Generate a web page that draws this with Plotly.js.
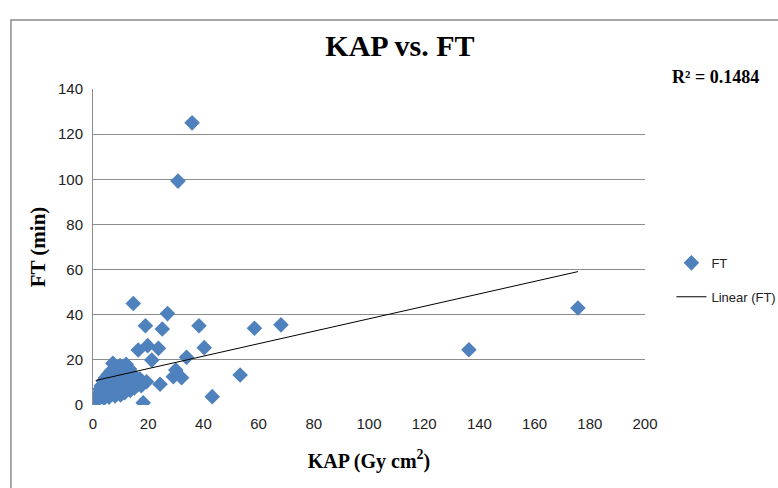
<!DOCTYPE html>
<html>
<head>
<meta charset="utf-8">
<script src="https://cdn.plot.ly/plotly-3.0.1.min.js"></script>
<style>html,body{margin:0;padding:0;background:#fff;}#chart{width:778px;height:488px;}</style>
</head>
<body>
<div id="chart"></div>
<script>
// KAP (Gy cm²) values
var kap = [
  35.9, 30.8, 14.6, 27.0, 19.0, 25.1, 38.4, 58.5, 68.1, 175.7, 136.2, 40.3, 16.4, 19.8, 23.7,
  21.3, 33.9, 53.3, 30.0, 29.1, 32.1, 24.3, 19.4, 18.2, 43.2,
  1.0, 1.5, 2.0, 2.2, 2.5, 3.0, 3.0, 3.5, 3.8, 4.0, 4.2, 4.5, 5.0, 5.0, 5.5, 5.8, 6.0, 6.2, 6.5,
  7.0, 7.0, 7.2, 7.5, 8.0, 8.0, 8.3, 8.5, 9.0, 9.0, 9.5, 9.8, 10.0, 10.2, 10.5, 11.0, 11.2, 11.5,
  12.0, 12.0, 12.5, 13.0, 13.2, 13.5, 14.0, 14.5, 15.0, 15.5, 16.0, 17.0, 17.5, 18.0
];
// FT (min) values
var ft = [
  125.0, 99.2, 45.0, 40.5, 35.1, 33.7, 35.1, 34.0, 35.5, 43.0, 24.5, 25.4, 24.4, 26.3, 25.1,
  19.9, 21.1, 13.3, 15.5, 12.5, 12.1, 9.2, 10.3, 1.0, 3.7,
  3.0, 2.0, 5.0, 3.5, 7.0, 4.0, 8.5, 6.0, 10.5, 3.0, 7.5, 12.0, 5.0, 9.0, 13.5, 3.5, 7.0, 11.0, 15.0,
  5.0, 9.5, 18.5, 13.0, 4.0, 7.5, 16.0, 11.0, 6.0, 14.0, 9.0, 17.5, 4.5, 12.0, 7.0, 15.5, 10.0, 5.5,
  18.0, 13.0, 8.0, 11.0, 16.0, 6.5, 9.5, 13.5, 7.5, 11.0, 9.0, 11.5, 8.5, 10.0
];
// Linear trendline
var trendSlope = 0.276;
var trendIntercept = 10.6;
var rSquaredLabel = "R² = 0.1484";
var xTicks = [0, 20, 40, 60, 80, 100, 120, 140, 160, 180, 200];
var yTicks = [0, 20, 40, 60, 80, 100, 120, 140];

var xMin = Math.min.apply(null, kap), xMax = Math.max.apply(null, kap);
var trendX = [xMin, xMax];
var trendY = trendX.map(function(v){ return trendIntercept + trendSlope * v; });

var serif = "Liberation Serif, Times New Roman, serif";
var sans = "Liberation Sans Narrow, Liberation Sans, Arial, sans-serif";

var data = [
  {x: kap, y: ft, type: 'scatter', mode: 'markers', name: 'FT', legendgroup: 'a',
   marker: {symbol: 'diamond', size: 12, color: '#4F81BD'}},
  {x: trendX, y: trendY, type: 'scatter', mode: 'lines', name: 'Linear (FT)', legendgroup: 'b',
   line: {color: '#000000', width: 1}}
];

var layout = {
  width: 778, height: 488,
  margin: {l: 93, r: 133, t: 89, b: 83, autoexpand: false},
  paper_bgcolor: '#ffffff', plot_bgcolor: '#ffffff',
  title: {text: '<b>KAP vs. FT</b>', font: {family: serif, size: 30, color: '#000'},
          x: 0.514, xanchor: 'center', xref: 'container', y: 0.907, yanchor: 'middle', yref: 'container'},
  xaxis: {range: [0, 200], tickvals: xTicks, ticktext: xTicks.map(String),
          showgrid: false, zeroline: false, showline: false,
          tickfont: {family: sans, size: 15, color: '#222'}, ticks: '', ticklen: 0, ticklabelstandoff: 8,
          title: {text: '<b>KAP (Gy cm<sup>2</sup>)</b>', font: {family: serif, size: 20, color: '#000'}, standoff: 22}},
  yaxis: {range: [0, 140], tickvals: yTicks, ticktext: yTicks.map(String),
          showgrid: true, gridcolor: '#8c8c8c', gridwidth: 1, zeroline: false,
          showline: true, linecolor: '#8c8c8c', linewidth: 1,
          tickfont: {family: sans, size: 15, color: '#222'}, ticks: '', ticklen: 0, ticklabelstandoff: 6,
          title: {text: '<b>FT (min)</b>', font: {family: serif, size: 21, color: '#000'}, standoff: 6}},
  showlegend: true,
  legend: {xref: 'container', yref: 'container', x: 0.863, xanchor: 'left', y: 0.492, yanchor: 'top', tracegroupgap: 14,
           font: {family: sans, size: 13, color: '#222'}, bgcolor: 'rgba(0,0,0,0)'},
  annotations: [
    {text: '<b>' + rSquaredLabel + '</b>', xref: 'paper', yref: 'paper', x: 1.127, y: 1.038,
     xanchor: 'center', yanchor: 'middle', showarrow: false,
     font: {family: serif, size: 18, color: '#000'}}
  ],
  shapes: [
    {type: 'rect', xref: 'paper', yref: 'paper', x0: -0.1486, x1: 1.5, y0: -0.5, y1: 1.218,
     line: {color: '#8c8c8c', width: 1.5}, fillcolor: 'rgba(0,0,0,0)', layer: 'below'}
  ]
};

Plotly.newPlot('chart', data, layout, {displayModeBar: false, staticPlot: true});
</script>
</body>
</html>
